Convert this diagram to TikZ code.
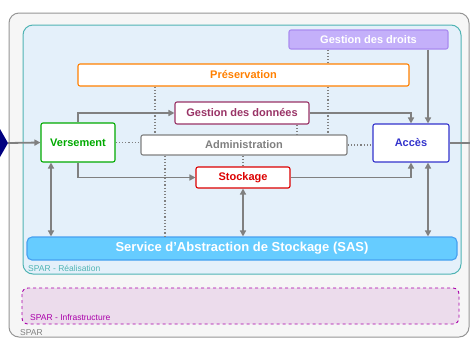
\documentclass[tikz,border=0pt]{standalone}
\usepackage{fontspec}
\setmainfont{Liberation Sans}
\usetikzlibrary{arrows.meta}
\definecolor{outerline}{RGB}{150,150,150}
\definecolor{outerfill}{RGB}{246,246,246}
\definecolor{realline}{RGB}{80,180,180}
\definecolor{realfill}{RGB}{228,240,250}
\definecolor{infraline}{RGB}{170,0,170}
\definecolor{infrafill}{RGB}{236,220,236}
\definecolor{conn}{RGB}{128,128,128}
\definecolor{cpres}{RGB}{255,128,0}
\definecolor{cgdd}{RGB}{153,51,102}
\definecolor{cvers}{RGB}{0,170,0}
\definecolor{cadmin}{RGB}{128,128,128}
\definecolor{cstock}{RGB}{220,0,0}
\definecolor{cacc}{RGB}{51,51,204}
\definecolor{cdroitsfill}{RGB}{196,176,250}
\definecolor{cdroitsline}{RGB}{170,140,240}
\definecolor{csasfill}{RGB}{102,204,255}
\definecolor{csasline}{RGB}{70,160,240}
\definecolor{cnavy}{RGB}{0,0,128}
\begin{document}
\begin{tikzpicture}[x=1pt,y=-1pt,
  box/.style={draw, fill=white, rounded corners=2pt, line width=1.1pt,
    font=\fontsize{11}{13}\selectfont\bfseries, inner sep=0pt},
  conline/.style={draw=conn, line width=1.8pt},
  arr/.style={conline, -{Triangle[length=6pt,width=6pt]}},
  darr/.style={conline, {Triangle[length=6pt,width=6pt]}-{Triangle[length=6pt,width=6pt]}},
  dots/.style={draw=conn, line width=1.2pt, dotted},
  small/.style={font=\fontsize{8.5}{10}\selectfont, inner sep=0pt, anchor=west}]
\useasboundingbox (0,0) rectangle (470,338);
\fill[white] (0,0) rectangle (470,338);
% containers
\draw[outerline, fill=outerfill, rounded corners=10pt, line width=1pt] (9,13) rectangle (469,337);
\draw[realline, fill=realfill, rounded corners=10pt, line width=1pt] (23,25) rectangle (461,274);
\draw[infraline, fill=infrafill, rounded corners=6pt, line width=0.9pt, dashed] (22,288) rectangle (459,324);
\node[small, text=realline] (lreal) at (28,268) {SPAR - Réalisation};
\node[small, text=infraline] (linfra) at (30,317) {SPAR - Infrastructure};
\node[small, text=conn] (lspar) at (20,333) {SPAR};
% nodes
\node[box, draw=cdroitsline, fill=cdroitsfill, text=white, minimum width=159pt, minimum height=19pt] (droits) at (368.5,39.5) {Gestion des droits};
\node[box, draw=cpres, text=cpres, minimum width=331pt, minimum height=22pt] (pres) at (243.5,75) {Préservation};
\node[box, draw=cgdd, text=cgdd, minimum width=134pt, minimum height=22pt] (gdd) at (242,113) {Gestion des données};
\node[box, draw=cvers, text=cvers, minimum width=74pt, minimum height=39pt] (vers) at (78,142.5) {Versement};
\node[box, draw=cadmin, text=cadmin, minimum width=206pt, minimum height=20pt] (admin) at (244,145) {Administration};
\node[box, draw=cstock, text=cstock, minimum width=94pt, minimum height=21pt] (stock) at (243,177.5) {Stockage};
\node[box, draw=cacc, text=cacc, minimum width=76pt, minimum height=38pt] (acc) at (411,143) {Accès};
\node[box, draw=csasline, fill=csasfill, text=white, rounded corners=5pt, font=\fontsize{13}{15}\selectfont\bfseries, minimum width=430pt, minimum height=23pt] (sas) at (242,248.5) {Service d’Abstraction de Stockage (SAS)};
% incoming arrow from outside
\fill[cnavy] (0,129) -- (8,143) -- (0,157) -- cycle;
\coordinate (in) at (8,143);
\coordinate (out) at (470,143);
% dotted links
\draw[dots] (vers.east) -- (vers.east -| admin.west);
\draw[dots] (admin.east) -- (admin.east -| acc.west);
\draw[dots] (pres.south -| 155,0) -- (admin.north -| 155,0);
\draw[dots] (droits.south -| 328,0) -- (pres.north -| 328,0);
\draw[dots] (pres.south -| 328,0) -- (admin.north -| 328,0);
\draw[dots] (gdd.south -| 297,0) -- (admin.north -| 297,0);
\draw[dots] (admin.south -| 165,0) -- (sas.north -| 165,0);
\draw[dots] (admin.south -| stock.north) -- (stock.north);
% connectors
\draw[arr] (in) -- (vers.west);
\draw[arr] (vers.north) |- (gdd.west);
\draw[arr] (vers.south) |- (stock.west);
\draw[darr] ([xshift=-27pt]vers.south) -- ([xshift=-27pt]vers.south |- sas.north);
\draw[arr] (gdd.east) -| (acc.north);
\draw[arr] ([xshift=17pt]acc.north |- droits.south) -- ([xshift=17pt]acc.north);
\draw[arr] (stock.east) -| (acc.south);
\draw[darr] ([xshift=17pt]acc.south) -- ([xshift=17pt]acc.south |- sas.north);
\draw[darr] (stock.south) -- (stock.south |- sas.north);
\draw[conline] (acc.east) -- (out);
\end{tikzpicture}
\end{document}
